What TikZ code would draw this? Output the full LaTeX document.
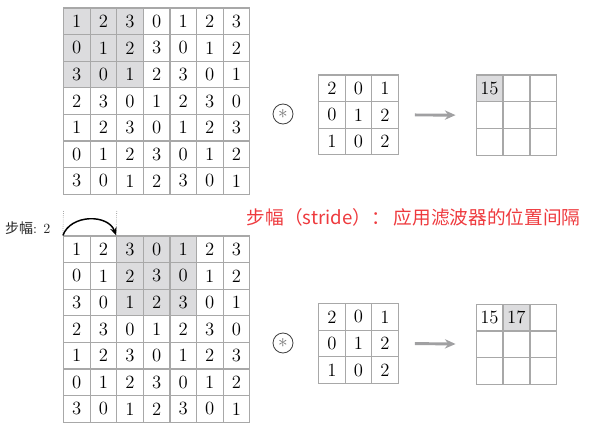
\documentclass[tikz,border=0pt]{standalone}
\usepackage{amsmath}
\usepackage{amssymb}
\usepackage{fontspec}
\newfontfamily\cjk{Noto Sans CJK SC}
\usetikzlibrary{arrows.meta, positioning, backgrounds}
\definecolor{gridgray}{RGB}{168,168,168}
\definecolor{cellgray}{RGB}{220,220,222}
\definecolor{notered}{RGB}{238,58,62}
\definecolor{flowgray}{RGB}{160,160,162}

\newcommand{\inputrows}{{1,2,3,0,1,2,3},{0,1,2,3,0,1,2},{3,0,1,2,3,0,1},{2,3,0,1,2,3,0},{1,2,3,0,1,2,3},{0,1,2,3,0,1,2},{3,0,1,2,3,0,1}}
\newcommand{\filterrows}{{2,0,1},{0,1,2},{1,0,2}}

\begin{document}
\begin{tikzpicture}[
    x=0.75pt, y=-0.75pt,
    cell/.style={rectangle, draw=gridgray, line width=0.9pt, minimum size=19.95pt, inner sep=0pt, text centered, font=\fontsize{14}{16}\selectfont},
    conv/.style={circle, draw=black!75, line width=0.6pt, minimum size=15pt, inner sep=0pt, font=\fontsize{15}{15}\selectfont, text=black!55},
    flow/.style={-{Stealth[length=8pt, width=7pt]}, line width=2.2pt, flowgray, shorten <=12pt, shorten >=15pt},
    hop/.style={-{Stealth[length=6pt, width=5pt]}, line width=1.1pt, black},
    guide/.style={densely dotted, gridgray, line width=0.6pt},
    note/.style={font=\cjk\fontsize{14}{16}\selectfont, text=notered, anchor=west}
]
    \useasboundingbox (0,0) rectangle (592,431);

    % input images
    \foreach \g/\top in {inA/8, inB/236} {
        \foreach \row [count=\r] in \inputrows {
            \foreach \v [count=\c] in \row {
                \node[cell] (\g-\r-\c) at ({63.5+(\c-0.5)*26.6}, {\top+(\r-0.5)*26.6}) {\v};
            }
        }
    }

    % filters
    \foreach \g/\top in {fltA/75, fltB/303.5} {
        \foreach \row [count=\r] in \filterrows {
            \foreach \v [count=\c] in \row {
                \node[cell] (\g-\r-\c) at ({318.7+(\c-0.5)*26.5}, {\top+(\r-0.5)*26.6}) {\v};
            }
        }
    }

    % outputs
    \foreach \g/\top in {outA/75, outB/304} {
        \foreach \r in {1,2,3} {
            \foreach \c in {1,2,3} {
                \node[cell] (\g-\r-\c) at ({476+(\c-0.5)*26.9}, {\top+(\r-0.5)*26.8}) {};
            }
        }
    }
    \node[font=\fontsize{14}{16}\selectfont] at (outA-1-1) {15};
    \node[font=\fontsize{14}{16}\selectfont] at (outB-1-1) {15};
    \node[font=\fontsize{14}{16}\selectfont] at (outB-1-2) {17};

    \begin{scope}[on background layer]
        \fill[cellgray] (inA-1-1.north west) rectangle (inA-3-3.south east);
        \fill[cellgray] (inB-1-3.north west) rectangle (inB-3-5.south east);
        \fill[cellgray] (outA-1-1.north west) rectangle (outA-1-1.south east);
        \fill[cellgray] (outB-1-2.north west) rectangle (outB-1-2.south east);
    \end{scope}

    \node[conv] (opA) at (283, 114) {$\ast$};
    \node[conv] (opB) at (283, 343) {$\ast$};

    \draw[flow] (fltA-2-3.east) -- (outA-2-1.west);
    \draw[flow] (fltB-2-3.east) -- (outB-2-1.west);

    % stride marker
    \coordinate (mkL) at (63.5, 211);
    \coordinate (mkR) at (116.7, 211);
    \draw[guide] (mkL) -- (inB-1-1.north west);
    \draw[guide] (mkR) -- (inB-1-3.north west);
    \draw[hop] (inB-1-1.north west) to[bend left=70, looseness=1.1] (inB-1-3.north west);
    \node[anchor=east, font=\fontsize{10.5}{12}\selectfont, text=black!85] (stride) at (55, 228) {{\cjk 步幅}: 2};

    \node[note] (caption) at (242, 217) {步幅（stride）： 应用滤波器的位置间隔};
\end{tikzpicture}
\end{document}
